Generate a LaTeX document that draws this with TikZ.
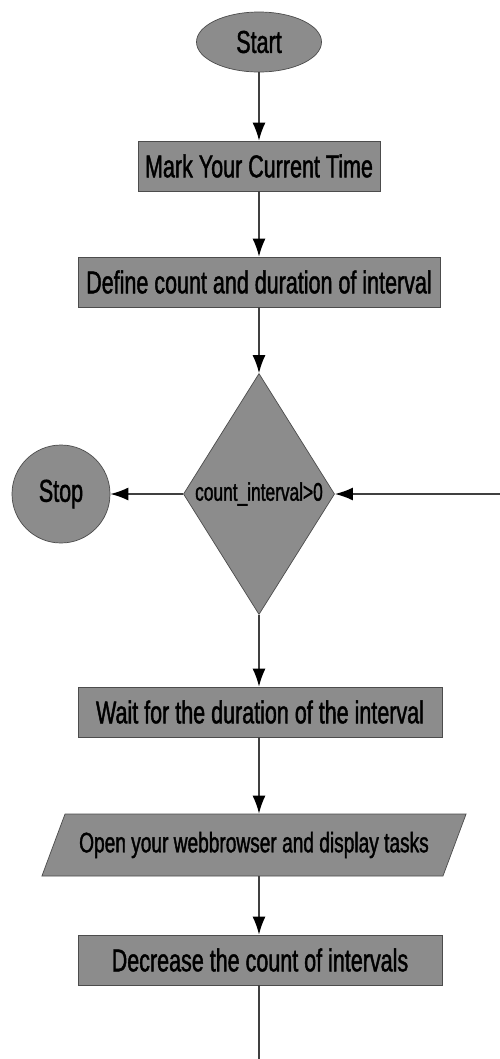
\documentclass[tikz,border=0pt]{standalone}
\usepackage{fontspec}
\setmainfont{Liberation Sans}[FakeStretch=0.68, FakeBold=1.3]
\usepackage{tikz}
\usetikzlibrary{shapes.geometric, arrows.meta, calc}
\tikzstyle{arrow}     = [thick,->,>=stealth]

\begin{document}
\begin{tikzpicture}

\tikzset{
  paso/.style={rectangle, minimum height=1cm,
    text centered, draw=black!70, fill=black!45,
    font=\fontsize{18}{20}\selectfont, inner sep=1pt},
  termino/.style={ellipse, minimum width=2.5cm, minimum height=1.2cm,
    draw=black!70, fill=black!45, font=\fontsize{18}{20}\selectfont},
  fin/.style={circle, minimum size=1.96cm, inner sep=0pt,
    draw=black!70, fill=black!45, font=\fontsize{18}{20}\selectfont},
  decision/.style={diamond, minimum width=3cm, minimum height=4.82cm,
    inner sep=0pt, draw=black!70, fill=black!45,
    font=\fontsize{14.5}{16}\selectfont},
  datos/.style={trapezium, trapezium left angle=54, trapezium right angle=126,
    minimum width=8.5cm, minimum height=1.24cm, inner sep=1pt,
    trapezium stretches=true,
    draw=black!70, fill=black!45, font=\fontsize{16}{18}\selectfont},
  arrow/.style={-{Latex[length=0.36cm, width=0.26cm, black]},
    line width=0.9pt, black!75}
}

\useasboundingbox (0,0) rectangle (9.98,-21.18);

% ---- CENTRAL NODES ----
\node (inicio)   [termino] at (5.18,-0.84) {Start};
\node (marca)    [paso, minimum width=4.84cm] at (5.18,-3.32)
  {Mark Your Current Time};
\node (definir)  [paso, minimum width=7.24cm] at (5.18,-5.64)
  {Define count and duration of interval};
\node (cond)     [decision] at (5.18,-9.88) {count\_interval>0};
\node (esperar)  [paso, minimum width=7.28cm] at (5.2,-14.24)
  {Wait for the duration of the interval};
\node (abrir)    [datos] at (5.08,-16.9)
  {Open your webbrowser and display tasks};
\node (reducir)  [paso, minimum width=7.28cm] at (5.2,-19.2)
  {Decrease the count of intervals};

% ---- STOP (left) ----
\node (parar)    [fin] at (1.22,-9.88) {Stop};

% ---- LOOP CORNERS ----
\coordinate (abajo)   at (5.18,-22);
\coordinate (derecha) at (10.6,-22);

% ---- MAIN ARROWS ----
\draw[arrow] (inicio)  -- (marca);
\draw[arrow] (marca.south -| inicio)   -- (definir.north -| inicio);
\draw[arrow] (definir.south -| inicio) -- (cond);
\draw[arrow] (cond)    -- (cond.south |- esperar.north);
\draw[arrow] (esperar.south -| cond)   -- (abrir.north -| cond);
\draw[arrow] (abrir.south -| cond)     -- (reducir.north -| cond);
\draw[arrow] (cond.west) -- (parar.east);

% ---- LOOP BACK ----
\draw[arrow] (reducir.south -| cond) -- (abajo) -- (derecha) |- (cond.east);

\end{tikzpicture}
\end{document}
